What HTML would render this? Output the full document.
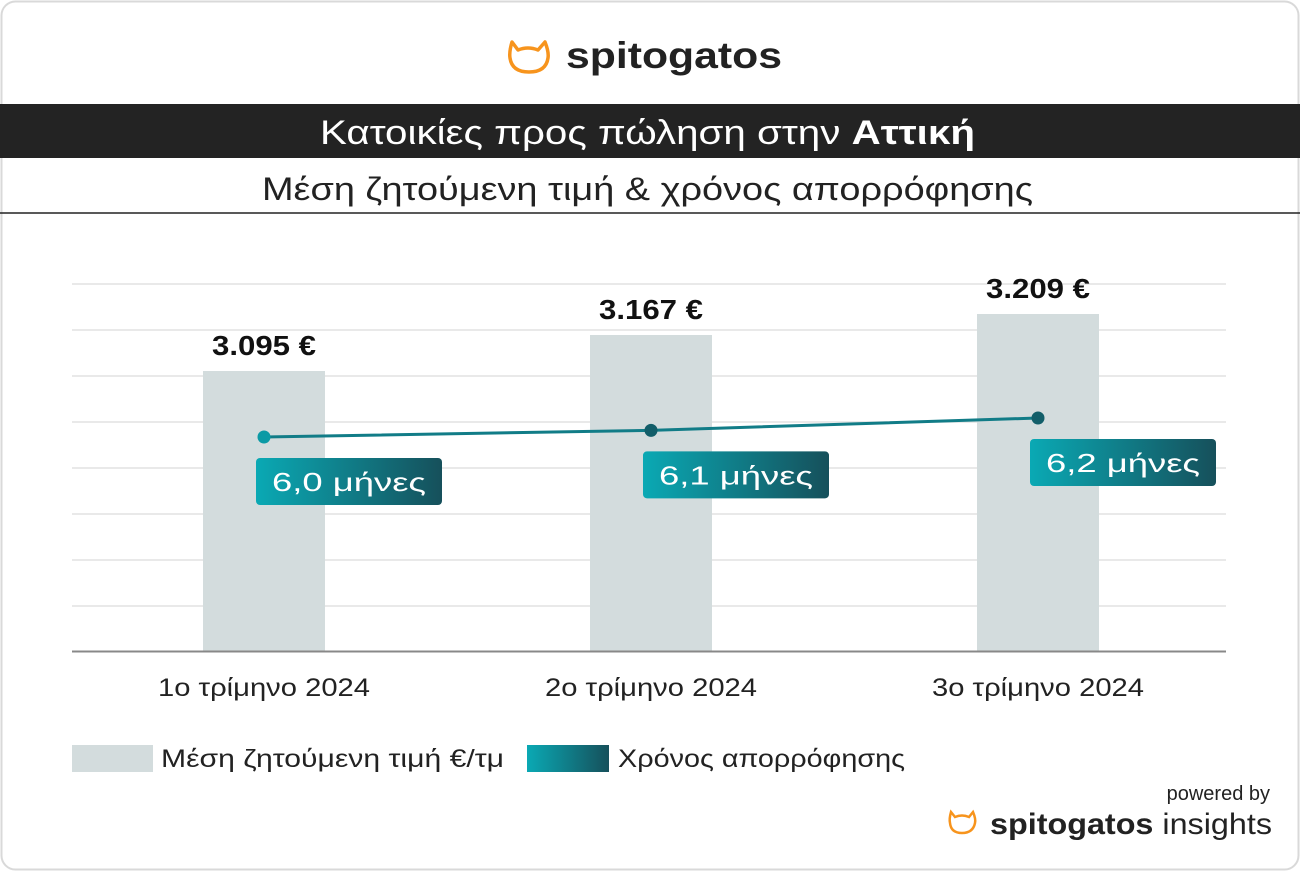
<!DOCTYPE html>
<html><head><meta charset="utf-8"><style>
body{margin:0;background:#fff;font-family:"Liberation Sans",sans-serif;}
svg text{font-family:"Liberation Sans","DejaVu Sans",sans-serif;}
</style></head><body>
<svg width="1300" height="871" viewBox="0 0 1300 871" xmlns="http://www.w3.org/2000/svg">
<defs>
<linearGradient id="tg" x1="0" x2="1" y1="0" y2="0"><stop offset="0" stop-color="#0aa9b4"/><stop offset="1" stop-color="#16505b"/></linearGradient>
</defs>
<rect x="1.5" y="1.5" width="1297" height="868" rx="14" fill="#fff" stroke="#d9d9d9" stroke-width="2"/>
<g>
<path d="M512 42 L518 50 Q528 46 538 50 L545 42 Q549 52 548 58 Q546 72 529 72 Q512 72 510 58 Q509 52 512 42 Z" fill="none" stroke="#f7941d" stroke-width="3.5" stroke-linejoin="round"/>
<text x="566" y="68" font-size="37" font-weight="bold" fill="#222" textLength="216" lengthAdjust="spacingAndGlyphs">spitogatos</text>
</g>
<rect x="0" y="104" width="1300" height="54" fill="#232323"/>
<text x="320" y="144" font-size="34" fill="#fff" textLength="655" lengthAdjust="spacingAndGlyphs">Κατοικίες προς πώληση στην <tspan font-weight="bold">Αττική</tspan></text>
<text x="262" y="200" font-size="32" fill="#222" textLength="771" lengthAdjust="spacingAndGlyphs">Μέση ζητούμενη τιμή &amp; χρόνος απορρόφησης</text>
<line x1="0" y1="213" x2="1300" y2="213" stroke="#222" stroke-width="1.5"/>
<g id="grid"></g><g id="bars"></g><g id="line"></g>
<line x1="72" y1="651.5" x2="1226" y2="651.5" stroke="#888" stroke-width="2"/>
<g>
<rect x="72" y="745" width="81" height="27" fill="#d3dcdd"/>
<text x="161" y="767" font-size="25" fill="#222" textLength="343" lengthAdjust="spacingAndGlyphs">Μέση ζητούμενη τιμή €/τμ</text>
<rect x="527" y="745" width="82" height="27" fill="url(#tg)"/>
<text x="618" y="767" font-size="25" fill="#222" textLength="287" lengthAdjust="spacingAndGlyphs">Χρόνος απορρόφησης</text>
</g>
<g>
<text x="1270" y="800" text-anchor="end" font-size="20" fill="#222">powered by</text>
<path d="M951 812 L955 817 Q962 814 969 817 L973 812 Q976 819 975 823 Q973 833 962 833 Q951 833 950 823 Q949 819 951 812 Z" fill="none" stroke="#f7941d" stroke-width="2.5"/>
<text x="990" y="834" font-size="30" fill="#222" textLength="282" lengthAdjust="spacingAndGlyphs"><tspan font-weight="bold">spitogatos</tspan> insights</text>
</g>
</svg>
<script>
const categories=["1ο τρίμηνο 2024","2ο τρίμηνο 2024","3ο τρίμηνο 2024"];
const priceValues=[3095,3167,3209];
const timeValues=[6.02,6.09,6.22];
const ns="http://www.w3.org/2000/svg";
function mk(t,a,p){const e=document.createElementNS(ns,t);for(const k in a)e.setAttribute(k,a[k]);p.appendChild(e);return e;}
const xC=i=>264+i*387;
const yP=v=>651-(v-2535)*0.5;
const yT=v=>437-(v-6.02)*95;
const grid=document.getElementById('grid');
for(let j=0;j<8;j++){const l=mk('line',{x1:72,x2:1226,y1:284+j*46,y2:284+j*46,stroke:'#e2e2e2','stroke-width':1.5},grid);

}
const bars=document.getElementById('bars');
priceValues.forEach((v,i)=>{
const r=mk('rect',{x:xC(i)-61,y:yP(v),width:122,height:651-yP(v),fill:'#d3dcdd'},bars);


const t=mk('text',{x:xC(i),y:yP(v)-16,'text-anchor':'middle','font-size':28,'font-weight':'bold',fill:'#111',textLength:104,lengthAdjust:'spacingAndGlyphs'},bars);
t.textContent=v.toLocaleString('de-DE')+' €';


const c=mk('text',{x:xC(i),y:696,'text-anchor':'middle','font-size':25,fill:'#222',textLength:212,lengthAdjust:'spacingAndGlyphs'},bars);
c.textContent=categories[i];


});
const lg=document.getElementById('line');
const pl=mk('polyline',{points:timeValues.map((v,i)=>xC(i)+','+yT(v)).join(' '),fill:'none',stroke:'#117c87','stroke-width':3},lg);


timeValues.forEach((v,i)=>{
const c=mk('circle',{cx:xC(i),cy:yT(v),r:6.5,fill:i==0?'#0b9aa5':'#125e69'},lg);


const b=mk('rect',{x:xC(i)-8,y:yT(v)+21,width:186,height:47,rx:4,fill:'url(#tg)'},lg);


const t=mk('text',{x:xC(i)+85,y:yT(v)+54,'text-anchor':'middle','font-size':26,fill:'#fff',textLength:154,lengthAdjust:'spacingAndGlyphs'},lg);
t.textContent=v.toFixed(1).replace('.',',')+' μήνες';


});
</script>
</body></html>
